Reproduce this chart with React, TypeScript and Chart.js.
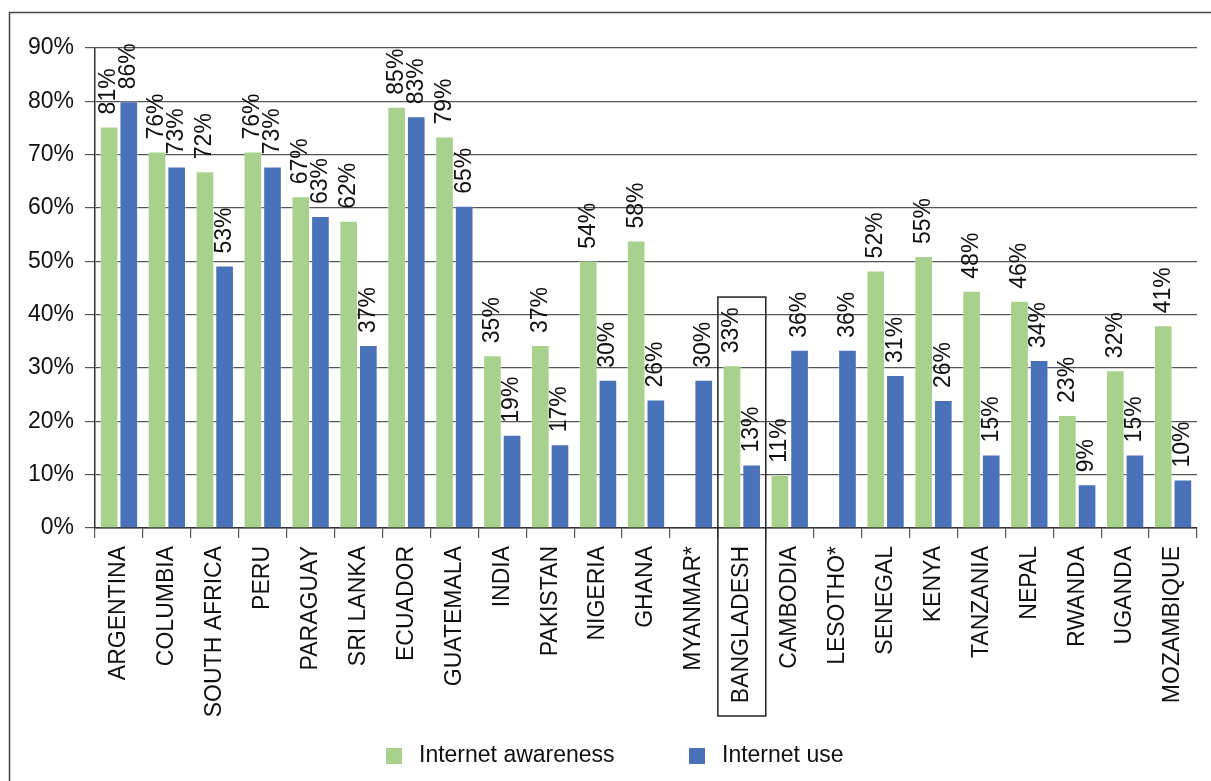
import React, { useEffect, useRef } from 'react';
import { Chart, registerables } from 'chart.js';

Chart.register(...registerables);

const categories = [
  'ARGENTINA', 'COLUMBIA', 'SOUTH AFRICA', 'PERU', 'PARAGUAY', 'SRI LANKA', 'ECUADOR', 'GUATEMALA',
  'INDIA', 'PAKISTAN', 'NIGERIA', 'GHANA', 'MYANMAR*', 'BANGLADESH', 'CAMBODIA', 'LESOTHO*',
  'SENEGAL', 'KENYA', 'TANZANIA', 'NEPAL', 'RWANDA', 'UGANDA', 'MOZAMBIQUE',
];

// bar heights as drawn (percent)
const awarenessValues = [
  75.3, 70.6, 66.9, 70.6, 62.2, 57.6, 79.0, 73.4,
  32.4, 34.3, 50.1, 53.9, null, 30.5, 10.0, null,
  48.3, 51.0, 44.5, 42.6, 21.2, 29.6, 38.0,
];
const useValues = [
  80.0, 67.8, 49.2, 67.8, 58.5, 34.3, 77.2, 60.4,
  17.5, 15.7, 27.8, 24.1, 27.8, 11.9, 33.4, 33.4,
  28.7, 24.0, 13.8, 31.5, 8.2, 13.8, 9.1,
];

// printed data labels
const awarenessLabels = [
  81, 76, 72, 76, 67, 62, 85, 79,
  35, 37, 54, 58, null, 33, 11, null,
  52, 55, 48, 46, 23, 32, 41,
];
const useLabels = [
  86, 73, 53, 73, 63, 37, 83, 65,
  19, 17, 30, 26, 30, 13, 36, 36,
  31, 26, 15, 34, 9, 15, 10,
];

const seriesNames = ['Internet awareness', 'Internet use'];
const seriesColors = ['#A9D18E', '#4A72B8'];
const highlighted = 'BANGLADESH';

const FONT = '"Liberation Sans", Arial, Helvetica, sans-serif';
const TEXT = '#111111';

export default function App() {
  const ref = useRef<HTMLCanvasElement | null>(null);

  useEffect(() => {
    if (!ref.current) return;

    const labelPlugin = {
      id: 'valueLabels',
      afterDatasetsDraw(chart: any) {
        const ctx = chart.ctx;
        ctx.save();
        ctx.font = `23px ${FONT}`;
        ctx.fillStyle = TEXT;
        [awarenessLabels, useLabels].forEach((labels, di) => {
          const meta = chart.getDatasetMeta(di);
          meta.data.forEach((bar: any, i: number) => {
            const t = labels[i];
            if (t == null) return;
            const { x, y } = bar.getProps(['x', 'y'], true);
            if (!isFinite(y)) return;
            ctx.save();
            ctx.translate(x, y - 12);
            ctx.rotate(-Math.PI / 2);
            ctx.textAlign = 'left';
            ctx.textBaseline = 'middle';
            ctx.fillText(`${t}%`, 0, 0);
            ctx.restore();
          });
        });
        ctx.restore();
      },
    };

    const decorPlugin = {
      id: 'decor',
      afterDraw(chart: any) {
        const ctx = chart.ctx;
        const xs = chart.scales.x;
        const ys = chart.scales.y;
        ctx.save();
        // outer frame
        ctx.strokeStyle = '#444';
        ctx.lineWidth = 1.5;
        ctx.beginPath();
        ctx.moveTo(9.5, chart.height);
        ctx.lineTo(9.5, 12.5);
        ctx.lineTo(chart.width, 12.5);
        ctx.stroke();

        // highlight box
        const idx = categories.indexOf(highlighted);
        const w = xs.width / categories.length;
        const cx = xs.getPixelForValue(idx);
        const top = ys.getPixelForValue(43.3);
        ctx.strokeStyle = '#222';
        ctx.lineWidth = 1.5;
        ctx.strokeRect(cx - w / 2, top, w, 716 - top);

        // legend
        const items = [
          { box: 386, text: 419 },
          { box: 689, text: 722 },
        ];
        ctx.font = `23px ${FONT}`;
        ctx.textAlign = 'left';
        ctx.textBaseline = 'middle';
        items.forEach((it, i) => {
          ctx.fillStyle = seriesColors[i];
          ctx.fillRect(it.box, 748, 16, 16);
          ctx.fillStyle = TEXT;
          ctx.fillText(seriesNames[i], it.text, 756);
        });
        ctx.restore();
      },
    };

    const chart = new Chart(ref.current, {
      type: 'bar',
      data: {
        labels: categories,
        datasets: [
          {
            label: seriesNames[0],
            data: awarenessValues,
            backgroundColor: seriesColors[0],
            borderColor: 'rgba(255,255,255,0.35)',
            borderWidth: 1,
            barPercentage: 0.95,
            categoryPercentage: 0.82,
          },
          {
            label: seriesNames[1],
            data: useValues,
            backgroundColor: seriesColors[1],
            borderColor: 'rgba(255,255,255,0.35)',
            borderWidth: 1,
            barPercentage: 0.95,
            categoryPercentage: 0.82,
          },
        ],
      },
      options: {
        responsive: false,
        animation: false,
        devicePixelRatio: 1,
        layout: { padding: { left: 0, right: 14, top: 48, bottom: 0 } },
        plugins: {
          legend: { display: false },
          tooltip: { enabled: false },
          title: { display: false },
        },
        scales: {
          x: {
            afterFit: (s: any) => { s.height = 253; },
            grid: {
              offset: true,
              drawOnChartArea: false,
              drawTicks: true,
              tickLength: 10,
              color: '#555',
              lineWidth: 1.2,
            },
            border: { color: '#333', width: 1.5 },
            ticks: {
              autoSkip: false,
              minRotation: 90,
              maxRotation: 90,
              padding: 8,
              color: TEXT,
              font: { family: FONT, size: 23 },
            },
          },
          y: {
            min: 0,
            max: 90,
            afterFit: (s: any) => { s.width = 95; },
            grid: {
              color: '#555',
              lineWidth: 1.2,
              tickLength: 10,
            },
            border: { color: '#333', width: 1.5 },
            ticks: {
              stepSize: 10,
              padding: 11,
              color: TEXT,
              font: { family: FONT, size: 23 },
              callback: (v: any) => `${v}%`,
            },
          },
        },
      },
      plugins: [labelPlugin, decorPlugin],
    });

    return () => chart.destroy();
  }, []);

  return (
    <div style={{ position: 'fixed', left: 0, top: 0, width: 1211, height: 781, background: '#fff' }}>
      <canvas ref={ref} width={1211} height={781} style={{ display: 'block', width: 1211, height: 781 }} />
    </div>
  );
}
